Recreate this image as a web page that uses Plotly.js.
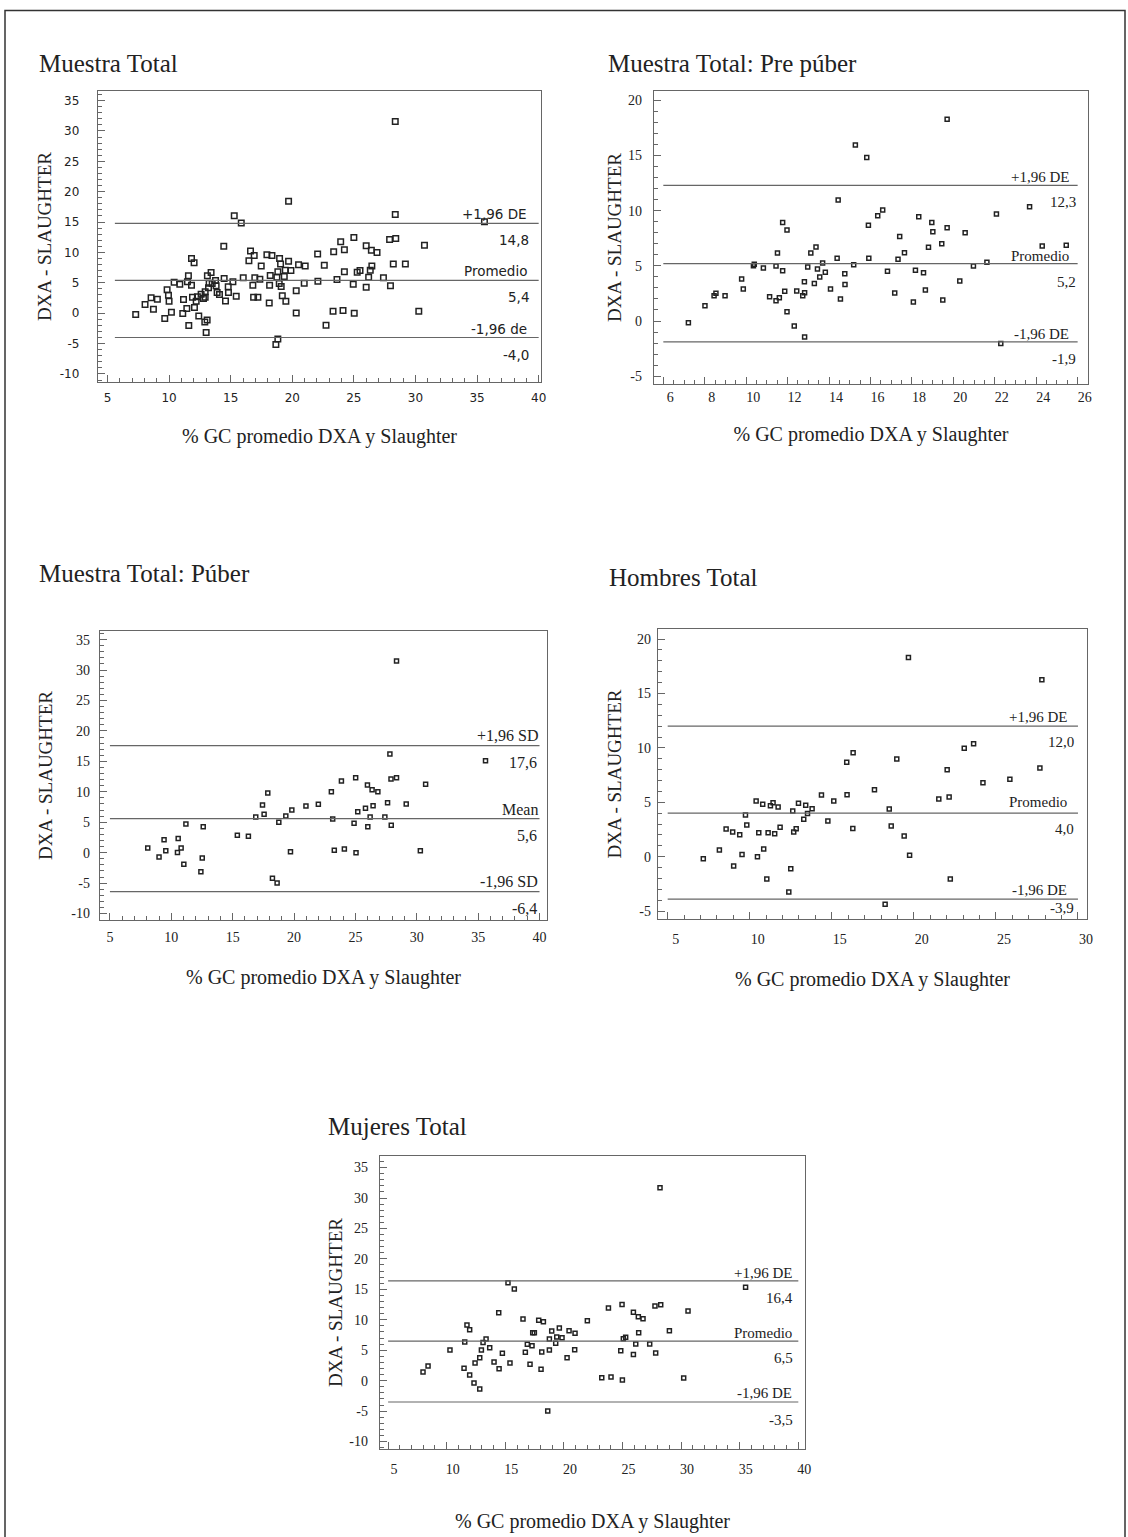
<!DOCTYPE html>
<html><head><meta charset="utf-8">
<script src="https://cdn.plot.ly/plotly-3.0.1.min.js"></script>
<style>html,body{margin:0;padding:0;background:#fff}#chart{width:1128px;height:1537px}</style>
</head><body><div id="chart"></div>
<script>
// ---------- DATA ----------
const panelTitles = ['Muestra Total', 'Muestra Total: Pre púber', 'Muestra Total: Púber', 'Hombres Total', 'Mujeres Total'];
const yAxisTitle = 'DXA - SLAUGHTER';
const xAxisTitle = '% GC promedio DXA y Slaughter';

// Muestra Total
const xTotal = [7.29, 8.05, 8.54, 8.73, 9.05, 9.65, 9.84, 9.95, 10.0, 10.19, 10.41, 10.87, 11.11, 11.17, 11.44, 11.49, 11.57, 11.6, 11.82, 11.82, 11.9, 12.03, 12.06, 12.2, 12.3, 12.41, 12.6, 12.79, 12.9, 12.93, 12.93, 13.01, 13.09, 13.11, 13.2, 13.25, 13.41, 13.5, 13.77, 13.82, 13.9, 14.09, 14.44, 14.47, 14.58, 14.8, 14.82, 15.18, 15.29, 15.45, 15.86, 16.02, 16.48, 16.61, 16.8, 16.86, 16.91, 16.96, 17.21, 17.37, 17.48, 17.94, 18.13, 18.16, 18.21, 18.35, 18.67, 18.75, 18.83, 18.83, 18.94, 18.97, 19.05, 19.1, 19.19, 19.35, 19.43, 19.48, 19.7, 19.7, 19.89, 20.32, 20.32, 20.51, 20.97, 21.05, 22.06, 22.08,
  28.36, 28.36, 35.6, 22.6, 22.74, 23.36, 23.31, 23.63, 23.93, 24.23, 24.12, 24.23, 25.0, 24.95, 25.03, 25.27, 25.5, 26.0, 26.0, 26.2, 26.33, 26.46, 26.42, 26.88, 27.4, 27.9, 28.4, 27.97, 28.2, 29.18, 30.27, 30.73];
const yTotal = [-0.22, 1.43, 2.53, 0.66, 2.31, -0.88, 3.85, 2.97, 1.98, 0.16, 5.11, 4.78, -0.05, 2.25, 0.77, 5.16, 6.15, -2.03, 9.01, 4.62, 2.64, 8.30, 0.93, 1.98, 2.69, -0.44, 3.13, 2.42, -1.43, 2.64, 3.52, -3.19, -1.1, 6.15, 4.18, 4.95, 6.70, 4.89, 5.38, 4.51, 3.41, 3.08, 11.04, 5.71, 2.03, 4.34, 3.41, 5.16, 16.04, 2.80, 14.84, 5.82, 8.63, 10.22, 4.62, 2.64, 9.51, 5.82, 2.64, 5.6, 7.75, 9.62, 1.7, 4.62, 6.21, 9.51, -5.16, 5.93, -4.23, 6.81, 4.89, 9.01, 8.08, 4.4, 2.86, 6.04, 7.09, 1.98, 18.41, 8.57, 7.03, 3.68, 0.05, 7.97, 4.95, 7.75, 9.73, 5.27,
  31.54, 16.26, 15.05, 7.91, -1.98, 10.11, 0.33, 5.55, 11.76, 10.44, 0.44, 6.81, 12.47, 4.78, 0.0, 6.76, 7.03, 11.1, 4.29, 5.93, 7.09, 7.75, 10.38, 10.0, 5.82, 12.14, 12.3, 4.51, 8.08, 8.08, 0.33, 11.2];

// Muestra Total: Pre púber
const xPre = [7.21, 8.01, 8.45, 8.54, 8.98, 9.78, 9.86, 10.35, 10.39, 10.83, 11.13, 11.44, 11.51, 11.44, 11.6, 11.76, 11.76, 11.86, 11.97, 11.97, 12.32, 12.44, 12.73, 12.81, 12.82, 12.82, 12.97, 13.12, 13.29, 13.37, 13.44, 13.55, 13.69, 13.82, 14.07, 14.39, 14.44, 14.55, 14.76, 14.77, 15.19, 15.27, 15.82, 15.9, 15.92,
  19.7, 16.35, 16.59, 16.82, 17.17, 17.33, 17.41, 17.64, 18.07, 18.17, 18.33, 18.56, 18.65, 18.8, 18.96, 19.01, 19.44, 19.49, 19.7, 20.31, 20.57, 20.97, 21.62, 22.08, 22.29, 23.68, 24.29, 25.45];
const yPre = [-0.15, 1.39, 2.30, 2.51, 2.30, 3.81, 2.90, 5.02, 5.14, 4.80, 2.21, 4.98, 6.16, 1.84, 2.11, 8.94, 4.56, 2.69, 8.25, 0.85, -0.45, 2.72, 2.30, 3.56, 2.57, -1.45, 4.89, 6.16, 3.41, 6.71, 4.71, 3.99, 5.26, 4.41, 2.90, 5.68, 10.97, 1.99, 4.29, 3.32, 5.11, 15.95, 14.83, 8.67, 5.68,
  18.28, 9.55, 10.06, 4.50, 2.54, 5.59, 7.67, 6.19, 1.72, 4.59, 9.46, 4.38, 2.81, 6.68, 8.94, 8.10, 7.01, 1.90, 8.46, 3.63, 8.01, 4.98, 5.32, 9.70, -2.05, 10.36, 6.80, 6.86];

// Muestra Total: Púber
const xPuber = [8.08, 9.0, 9.41, 9.55, 10.5, 10.56, 10.8, 11.02, 11.19, 12.41, 12.52, 12.6, 15.38, 16.28, 16.88, 17.43, 17.56, 17.86, 18.24, 18.62, 18.76, 19.33, 19.71, 19.82, 20.97, 21.98,
  28.35, 27.81, 35.6, 23.04, 23.15, 23.28, 23.86, 24.1, 24.89, 25.02, 25.05, 25.19, 25.82, 25.98, 26.01, 26.2, 26.36, 26.44, 26.83, 27.4, 27.62, 27.9, 27.92, 28.35, 29.14, 30.29, 30.72];
const yPuber = [0.77, -0.71, 2.14, 0.33, 0.05, 2.35, 0.77, -1.92, 4.71, -3.12, -0.88, 4.27, 2.85, 2.68, 5.86, 7.83, 6.3, 9.80, -4.22, -4.98, 4.98, 6.02, 0.16, 7.01, 7.67, 7.94,
  31.49, 16.21, 15.11, 10.02, 5.53, 0.38, 11.77, 0.60, 4.82, 12.32, 0.0, 6.74, 7.28, 11.12, 4.27, 5.86, 10.35, 7.72, 10.02, 5.86, 8.21, 12.1, 4.49, 12.32, 8.0, 0.33, 11.23];

// Hombres Total
const xHombres = [7.17, 8.15, 8.56, 8.96, 9.02, 9.39, 9.53, 9.74, 9.82, 10.39, 10.47, 10.55, 10.79, 10.85, 11.04, 11.12, 11.26, 11.42, 11.52, 11.73, 11.85, 12.38, 12.5, 12.62, 12.68, 12.83, 12.97, 13.29, 13.41, 13.52, 13.8, 14.37, 14.76, 15.12, 15.91, 15.93, 16.3, 16.28,
  19.67, 27.8, 23.64, 23.07, 18.96, 22.03, 27.68, 24.21, 25.85, 17.6, 21.52, 22.15, 18.5, 18.62, 19.41, 19.74, 22.22, 18.25];
const yHombres = [-0.18, 0.61, 2.54, 2.27, -0.86, 2.02, 0.21, 3.83, 2.91, 5.12, 0.0, 2.21, 4.81, 0.70, -2.05, 2.21, 4.69, 4.96, 2.11, 4.56, 2.70, -3.25, -1.10, 4.2, 2.27, 2.57, 4.9, 3.43, 4.72, 3.98, 4.41, 5.67, 3.28, 5.12, 8.67, 5.70, 9.56, 2.60,
  18.32, 16.27, 10.39, 9.96, 8.98, 8.0, 8.15, 6.80, 7.11, 6.16, 5.30, 5.48, 4.38, 2.82, 1.90, 0.12, -2.05, -4.38];

// Mujeres Total
const xMujeres = [7.98, 8.41, 10.28, 11.48, 11.54, 11.73, 11.96, 11.96, 12.33, 12.42, 12.82, 12.82, 12.96, 13.1, 13.36, 13.67, 14.04, 14.44, 14.47, 14.75, 15.23, 15.4, 15.77, 16.51, 16.71, 16.88, 17.11, 17.28, 17.34, 17.48, 17.85, 18.05, 18.11, 18.25, 18.62, 18.76, 18.76, 18.96, 19.3, 19.39, 19.61, 19.84, 20.27, 20.44, 20.92, 20.95,
  28.2, 35.5, 22.0, 23.8, 24.96, 25.93, 26.35, 26.75, 27.77, 28.26, 30.59, 29.0, 26.38, 25.07, 25.27, 26.13, 27.32, 24.85, 25.93, 27.83, 23.23, 24.02, 24.99, 30.22];
const yMujeres = [1.42, 2.41, 5.04, 2.03, 6.35, 9.14, 8.37, 0.93, -0.38, 2.90, 3.78, -1.37, 5.04, 6.29, 6.84, 5.42, 3.07, 11.17, 1.97, 4.49, 16.09, 2.90, 15.05, 10.13, 4.65, 5.97, 2.68, 5.75, 7.88, 7.88, 9.91, 1.86, 4.71, 9.69, -4.98, 5.04, 6.84, 8.16, 6.13, 7.17, 8.65, 7.06, 3.78, 8.21, 5.09, 7.77,
  31.67, 15.33, 9.85, 11.93, 12.53, 11.22, 10.51, 10.18, 12.26, 12.48, 11.44, 8.21, 7.88, 6.9, 7.12, 6.02, 6.02, 4.93, 4.32, 4.54, 0.49, 0.60, 0.11, 0.44];

// Limits of agreement: upper, mean, lower
const limTotal = [14.8, 5.4, -4.0];
const limPre = [12.3, 5.2, -1.9];
const limPuber = [17.6, 5.6, -6.4];
const limHombres = [12.0, 4.0, -3.9];
const limMujeres = [16.4, 6.5, -3.5];
const limNamesTotal = ['+1,96 DE', 'Promedio', '-1,96 de'];
const limNamesPuber = ['+1,96 SD', 'Mean', '-1,96 SD'];
const limNamesDE = ['+1,96 DE', 'Promedio', '-1,96 DE'];

// Tick labels
const ticksX40 = ['5', '10', '15', '20', '25', '30', '35', '40'];
const ticksY35 = ['-10', '-5', '0', '5', '10', '15', '20', '25', '30', '35'];
const ticksX26 = ['6', '8', '10', '12', '14', '16', '18', '20', '22', '24', '26'];
const ticksX30 = ['5', '10', '15', '20', '25', '30'];
const ticksY20 = ['-5', '0', '5', '10', '15', '20'];

// ---------- LAYOUT CONFIG ----------
const W = 1128, H = 1537;
const SERIF = '"Liberation Serif", "Times New Roman", serif';
const SANS = '"DejaVu Sans", Verdana, sans-serif';
const INK = '#222';
const AX = '#666';

const panels = [
  {x: xTotal, y: yTotal, lim: limTotal, names: limNamesTotal, xt: ticksX40, yt: ticksY35,
   frame: {l: 98, r: 541, t: 91, b: 382}, xr: [4.23, 40.19], yr: [-11.32, 36.57], xminor: 1, line: [5.6, 40],
   title: {x: 37, y: 63}, tickFont: SANS, tickSize: 12, annFont: SANS, annSize: 13.5, msize: 5.5,
   yStand: 15, xStand: 4, yTitleStand: 3, xTitleStand: 25, xshiftName: -10, xshiftVal: -8, xLabShift: 0,
   nameY: [9, 9, 9], valY: [-17, -17, -17]},
  {x: xPre, y: yPre, lim: limPre, names: limNamesDE, xt: ticksX26, yt: ticksY20,
   frame: {l: 654, r: 1088, t: 91, b: 384}, xr: [5.55, 26.5], yr: [-5.71, 20.85], xminor: 0.5, line: [6, 26],
   title: {x: 606, y: 63}, tickFont: SERIF, tickSize: 14, annFont: SERIF, annSize: 15, msize: 4,
   yStand: 8, xStand: 0, yTitleStand: 1, xTitleStand: 23, xshiftName: -7, xshiftVal: 0, xLabShift: 7,
   nameY: [8.5, 8, 8], valY: [-17, -18, -17.5]},
  {x: xPuber, y: yPuber, lim: limPuber, names: limNamesPuber, xt: ticksX40, yt: ticksY35,
   frame: {l: 100, r: 547, t: 631, b: 920}, xr: [4.19, 40.61], yr: [-11.06, 36.42], xminor: 1, line: [5, 40],
   title: {x: 37, y: 573}, tickFont: SERIF, tickSize: 14, annFont: SERIF, annSize: 16, msize: 4,
   yStand: 6, xStand: 4, yTitleStand: 13, xTitleStand: 26, xshiftName: 0, xshiftVal: -1, xLabShift: 0,
   nameY: [10, 9, 10], valY: [-16.5, -16.5, -16.5]},
  {x: xHombres, y: yHombres, lim: limHombres, names: limNamesDE, xt: ticksX30, yt: ticksY20,
   frame: {l: 658, r: 1087, t: 629, b: 919}, xr: [4.41, 30.55], yr: [-5.73, 20.93], xminor: 1, line: [5, 30],
   title: {x: 607, y: 578}, tickFont: SERIF, tickSize: 14, annFont: SERIF, annSize: 15, msize: 4,
   yStand: 3, xStand: 7, yTitleStand: 10, xTitleStand: 26, xshiftName: -9, xshiftVal: -2, xLabShift: 8,
   nameY: [9, 11.5, 9], valY: [-16, -15.5, -9]},
  {x: xMujeres, y: yMujeres, lim: limMujeres, names: limNamesDE, xt: ticksX40, yt: ticksY35,
   frame: {l: 380, r: 805, t: 1156, b: 1449}, xr: [4.31, 40.57], yr: [-11.22, 36.9], xminor: 1, line: [5, 40],
   title: {x: 326, y: 1126}, tickFont: SERIF, tickSize: 14, annFont: SERIF, annSize: 15, msize: 4,
   yStand: 8, xStand: 7, yTitleStand: 1, xTitleStand: 38, xshiftName: -4, xshiftVal: -3, xLabShift: 6,
   nameY: [8, 8, 8.5], valY: [-17.5, -16.5, -18]}
];

const fmt = v => v.toFixed(1).replace('.', ',');

const data = [];
const layout = {
  width: W, height: H, margin: {l: 0, r: 0, t: 0, b: 0},
  paper_bgcolor: '#fff', plot_bgcolor: '#fff', showlegend: false,
  font: {family: SERIF, color: INK},
  annotations: [],
  shapes: [{type: 'rect', xref: 'paper', yref: 'paper', x0: 5 / W, x1: 1125 / W, y0: -0.02, y1: 1 - 10.5 / H,
            line: {color: '#333', width: 1.5}, fillcolor: 'rgba(0,0,0,0)'}]
};

panels.forEach((p, i) => {
  const s = i === 0 ? '' : String(i + 1);
  const xa = 'x' + s, ya = 'y' + s;
  data.push({type: 'scatter', mode: 'markers', x: p.x, y: p.y, xaxis: xa, yaxis: ya,
    marker: {symbol: 'square-open', size: p.msize, color: INK, line: {width: 1.5, color: INK}},
    hoverinfo: 'x+y'});
  p.lim.forEach(v => {
    data.push({type: 'scatter', mode: 'lines', x: p.line, y: [v, v], xaxis: xa, yaxis: ya,
      line: {color: '#666', width: 1.2}, hoverinfo: 'skip'});
  });
  const xvals = p.xt.map(Number), yvals = p.yt.map(Number);
  const common = {showline: true, mirror: true, linecolor: AX, linewidth: 1.2, ticks: 'inside', ticklen: 7,
    tickcolor: AX, tickwidth: 1, showgrid: false, zeroline: false, tickmode: 'array',
    tickfont: {family: p.tickFont, size: p.tickSize, color: INK}, automargin: false};
  layout['xaxis' + s] = Object.assign({}, common, {
    domain: [p.frame.l / W, p.frame.r / W], range: p.xr, anchor: ya,
    tickvals: xvals, ticktext: p.xt, ticklabelstandoff: p.xStand, ticklabelshift: p.xLabShift,
    minor: {dtick: p.xminor, tick0: xvals[0], ticks: 'inside', ticklen: 4, tickcolor: AX, showgrid: false},
    title: {text: xAxisTitle, font: {family: SERIF, size: 20, color: INK}, standoff: p.xTitleStand}
  });
  layout['yaxis' + s] = Object.assign({}, common, {
    domain: [1 - p.frame.b / H, 1 - p.frame.t / H], range: p.yr, anchor: xa,
    tickvals: yvals, ticktext: p.yt, ticklabelstandoff: p.yStand,
    minor: {dtick: 1, tick0: 0, ticks: 'inside', ticklen: 4, tickcolor: AX, showgrid: false},
    title: {text: yAxisTitle, font: {family: SERIF, size: 19, color: INK}, standoff: p.yTitleStand}
  });
  // panel title
  layout.annotations.push({text: panelTitles[i], xref: 'paper', yref: 'paper', x: p.title.x / W, y: 1 - p.title.y / H,
    xanchor: 'left', yanchor: 'middle', showarrow: false, font: {family: SERIF, size: 25, color: INK}});
  // limit labels and values
  p.lim.forEach((v, k) => {
    layout.annotations.push({text: p.names[k], xref: xa, yref: ya, x: p.line[1], y: v, xanchor: 'right', yanchor: 'middle',
      xshift: p.xshiftName, yshift: p.nameY[k], showarrow: false, font: {family: p.annFont, size: p.annSize, color: INK}});
    layout.annotations.push({text: fmt(v), xref: xa, yref: ya, x: p.line[1], y: v, xanchor: 'right', yanchor: 'middle',
      xshift: p.xshiftVal, yshift: p.valY[k], showarrow: false, font: {family: p.annFont, size: p.annSize, color: INK}});
  });
});

Plotly.newPlot('chart', data, layout, {staticPlot: true});
</script>
</body></html>
